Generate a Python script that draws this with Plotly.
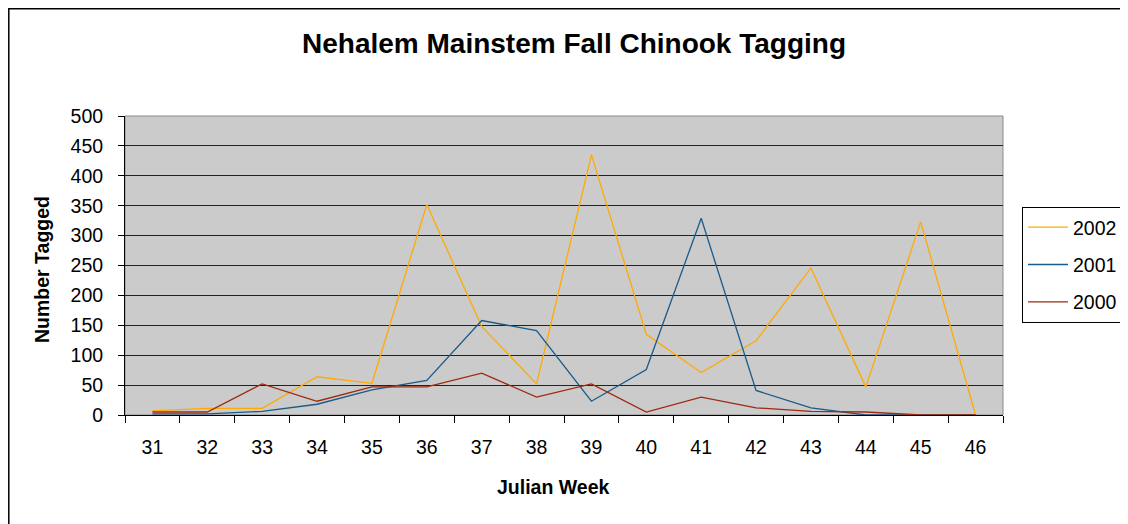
import plotly.graph_objects as go

weeks = ["31", "32", "33", "34", "35", "36", "37", "38", "39", "40", "41", "42", "43", "44", "45", "46"]
y2002 = [7, 11, 11, 64, 53, 352, 148, 52, 435, 135, 71, 124, 246, 47, 323, 0]
y2001 = [2, 2, 6, 18, 42, 58, 158, 141, 23, 76, 329, 41, 12, 0, 0, 0]
y2000 = [5, 5, 52, 23, 47, 47, 70, 30, 52, 5, 30, 12, 6, 5, 0, 0]

series = [("2002", y2002, "#FFAA00"), ("2001", y2001, "#1C5A8A"), ("2000", y2000, "#9E2A10")]

FONT = "Liberation Sans, Arial, sans-serif"
FS = 19.5

# page has an 8px body margin; figure occupies page px 8..1128 x 8..524
OFF = 8
PL, PT, PW, PH = 125 - OFF, 116 - OFF, 878, 299
BOT = PT + PH


def px(page_x):
    return (page_x - OFF - PL) / PW


def py(page_y):
    return (BOT - (page_y - OFF)) / PH


fig = go.Figure()
for name, vals, color in series:
    fig.add_trace(go.Scatter(
        x=weeks, y=vals, name=name, mode="lines",
        line=dict(color=color, width=1.3),
        legendgroup=name,
    ))

fig.update_layout(
    width=1120, height=516,
    margin=dict(l=PL, r=1120 - PL - PW, t=PT, b=516 - PT - PH, autoexpand=False),
    paper_bgcolor="white",
    plot_bgcolor="#CBCBCB",
    font=dict(family=FONT, size=FS, color="black"),
    showlegend=True,
    legend=dict(
        x=px(1022), y=py(207), xanchor="left", yanchor="top",
        bordercolor="black", borderwidth=1, bgcolor="white",
        font=dict(size=FS, family=FONT),
        tracegroupgap=9, traceorder="grouped", itemwidth=40,
    ),
    xaxis=dict(
        type="category", range=[-0.5, 15.5], tickson="boundaries", ticks="outside", ticklen=7,
        tickcolor="black", showline=True, linecolor="black", linewidth=1,
        showgrid=False, zeroline=False, ticklabelstandoff=15, automargin=False,
        tickfont=dict(size=FS, family=FONT),
    ),
    yaxis=dict(
        range=[0, 500], dtick=50, tick0=0, ticks="outside", ticklen=6,
        tickcolor="black", showline=True, linecolor="black", linewidth=1,
        showgrid=True, gridcolor="#222222", gridwidth=1, zeroline=False,
        ticklabelstandoff=11, automargin=False, tickfont=dict(size=FS, family=FONT),
    ),
    shapes=[
        dict(type="rect", xref="paper", yref="paper", x0=0, x1=1, y0=0, y1=1,
             line=dict(color="#8A8A8A", width=1), layer="below"),
        dict(type="rect", xref="paper", yref="paper", x0=px(8.8), x1=px(1160), y0=py(560), y1=py(8.8),
             line=dict(color="black", width=1.5), fillcolor="rgba(0,0,0,0)"),
    ],
    annotations=[
        dict(text="<b>Nehalem Mainstem Fall Chinook Tagging</b>", xref="paper", yref="paper",
             x=px(574), y=py(44), xanchor="center", yanchor="middle",
             showarrow=False, font=dict(size=28, family=FONT)),
        dict(text="<b>Julian Week</b>", xref="paper", yref="paper",
             x=px(553), y=py(487), xanchor="center", yanchor="middle",
             showarrow=False, font=dict(size=FS, family=FONT)),
        dict(text="<b>Number Tagged</b>", xref="paper", yref="paper",
             x=px(42), y=py(270), xanchor="center", yanchor="middle",
             textangle=-90, showarrow=False, font=dict(size=FS, family=FONT)),
    ],
)

fig.write_html("out.html")
